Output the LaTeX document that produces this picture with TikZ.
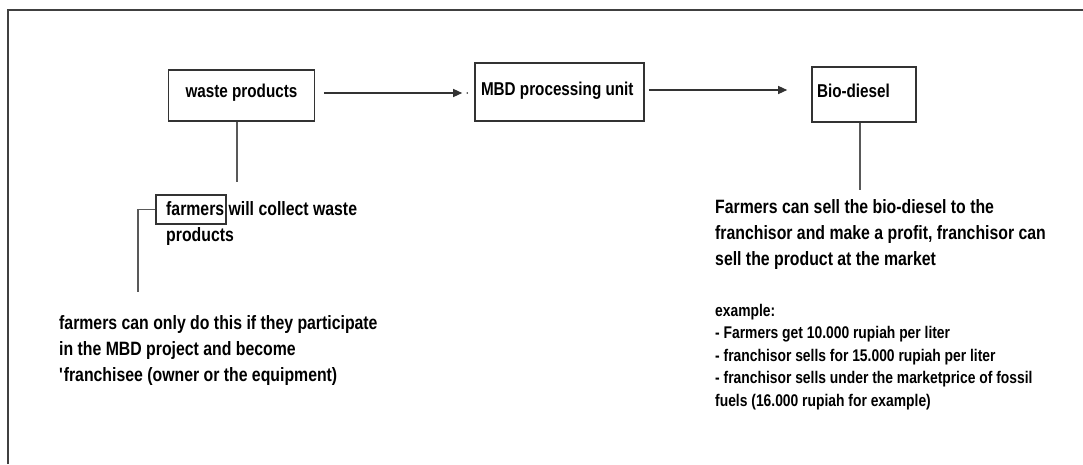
\documentclass[tikz,border=0pt]{standalone}
\usepackage{fontspec}
\setmainfont{Liberation Sans}[FakeStretch=0.82]
\usetikzlibrary{arrows.meta,calc}
\tikzset{
  box/.style={draw=black!80, line width=1.6pt, rectangle, inner sep=0pt, font=\bfseries\fontsize{18.6}{22}\selectfont},
  link/.style={draw=black!65, line width=1.3pt},
  arr/.style={draw=black!80, line width=1.3pt, -{Triangle[length=9pt,width=8pt]}},
  lbl/.style={font=\bfseries\fontsize{19.3}{26}\selectfont, inner sep=0pt, align=flush left},
  small/.style={font=\bfseries\fontsize{16.9}{22.5}\selectfont, inner sep=0pt, align=flush left},
}
\begin{document}
\begin{tikzpicture}[x=1pt,y=-1pt]
\useasboundingbox (0,0) rectangle (1083,464);
\draw[draw=black!75, line width=1.5pt] (8,464) -- (8,10) -- (1083,10);

\node[box, minimum width=146pt, minimum height=51pt, text height=14pt, text depth=10pt] (waste) at (241.5,95.5) {waste products};
\node[box, minimum width=169pt, minimum height=58pt, text width=157pt, align=flush left, text height=14pt, text depth=8pt] (mbd) at (559.5,92) {MBD processing unit};
\node[box, minimum width=104pt, minimum height=55pt, text width=94pt, align=flush left, text height=14pt, text depth=8pt] (bio) at (864,94.5) {Bio-diesel};

\coordinate (a1) at ([xshift=8.5pt,yshift=2.5pt]waste.east);
\draw[arr] (a1) -- ($(a1 -| mbd.west)+(-12,0)$);
\fill[black!80] ($(a1 -| mbd.west)+(-7,0)$) circle (0.9pt);
\coordinate (a2) at ([xshift=4pt,yshift=2pt]mbd.east);
\draw[arr] (a2) -- ($(a2 -| bio.west)+(-24,0)$);
\fill[black!80] ([xshift=-1pt,yshift=2pt]mbd.east) circle (0.9pt);

\coordinate (w1) at (237,182);
\draw[link] (w1 |- waste.south) -- (w1);
\coordinate (b1) at (860,190);
\draw[link] (b1 |- bio.south) -- (b1);

\node[box, line width=1.4pt, minimum width=70pt, minimum height=29pt] (fbox) at (191,209.5) {};
\node[lbl, anchor=north west] (ftext) at (166,201) {farmers will collect waste\\products};
\coordinate (fb) at (138,292);
\draw[link] (fbox.west) -- (fb |- fbox.west) -- (fb);

\node[lbl, anchor=north west] (cond) at (59,315) {farmers can only do this if they participate\\in the MBD project and become\\\textquotesingle franchisee (owner or the equipment)};

\node[lbl, anchor=north west] (sell) at (715,199) {Farmers can sell the bio-diesel to the\\franchisor and make a profit, franchisor can\\sell the product at the market};

\node[small, anchor=north west] (ex) at (715,304) {example:\\- Farmers get 10.000 rupiah per liter\\- franchisor sells for 15.000 rupiah per liter\\- franchisor sells under the marketprice of fossil\\fuels (16.000 rupiah for example)};
\end{tikzpicture}
\end{document}
